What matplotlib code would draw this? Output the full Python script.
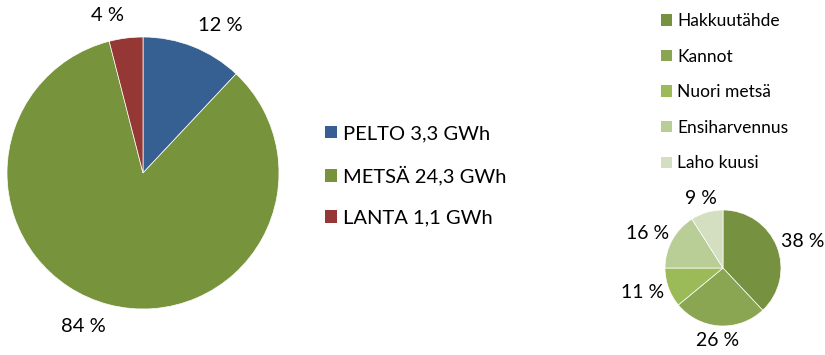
import numpy as np
import matplotlib.pyplot as plt
from matplotlib.patches import Patch

plt.rcParams['font.family'] = ['Lato', 'DejaVu Sans']

# energy sources
sources = ['PELTO', 'METSÄ', 'LANTA']
source_gwh = [3.3, 24.3, 1.1]
source_pct = [12, 84, 4]
source_colors = ['#376092', '#77933C', '#953735']

# forest fraction breakdown
forest_parts = ['Hakkuutähde', 'Kannot', 'Nuori metsä', 'Ensiharvennus', 'Laho kuusi']
forest_pct = [38, 26, 11, 16, 9]
forest_colors = ['#76913F', '#8BA652', '#9BBB59', '#B9CD96', '#D3DFC0']

W, H = 825, 355
fig = plt.figure(figsize=(W / 100, H / 100), dpi=100)


def pie_axes(cx, cy, r):
    # axes box in pixels, pie radius 1 maps to r pixels
    s = 1.25 * r
    return fig.add_axes([(cx - s) / W, (H - cy - s) / H, 2 * s / W, 2 * s / H])


def draw_pie(ax, values, colors, fs):
    wedges, _, autotexts = ax.pie(values, colors=colors, startangle=90, counterclock=False,
                                  autopct=lambda p: f'{p:.0f} %', pctdistance=1.2,
                                  wedgeprops=dict(edgecolor='white', linewidth=0.5),
                                  textprops=dict(fontsize=fs, color='black'))
    ax.set_xlim(-1.25, 1.25)
    ax.set_ylim(-1.25, 1.25)
    ax.set_aspect('equal')
    ax.axis('off')
    return wedges, autotexts


def place_labels(wedges, texts, r, gap, corner):
    # put each label just outside its slice, text box pushed away from the pie
    renderer = fig.canvas.get_renderer()
    for w, t in zip(wedges, texts):
        a = np.deg2rad((w.theta1 + w.theta2) / 2)
        c, s = np.cos(a), np.sin(a)
        bb = t.get_window_extent(renderer)
        hw, hh = bb.width / 2 / r, bb.height / 2 / r
        d = 1 + gap / r
        if corner:
            x = d * c + np.sign(c) * hw
            y = d * s + np.sign(s) * hh
        else:
            x = d * c + hw * c
            y = d * s + hh * s
        t.set_position((x, y))


ax1 = pie_axes(143, 173, 136)
w1, t1 = draw_pie(ax1, source_pct, source_colors, 14.5)

ax2 = pie_axes(723, 268, 58)
w2, t2 = draw_pie(ax2, forest_pct, forest_colors, 14)

fig.canvas.draw()
place_labels(w1, t1, 136, 14, True)
place_labels(w2, t2, 58, 6, False)

handles1 = [Patch(facecolor=c) for c in source_colors]
labels1 = [f'{s} {str(v).replace(".", ",")} GWh' for s, v in zip(sources, source_gwh)]
fig.legend(handles1, labels1, loc='upper left', bbox_to_anchor=(325 / W, 1 - 125 / H),
           frameon=False, fontsize=14.5, handlelength=0.6, handleheight=0.6,
           handletextpad=0.28, labelspacing=1.18, borderaxespad=0, borderpad=0)

handles2 = [Patch(facecolor=c) for c in forest_colors]
fig.legend(handles2, forest_parts, loc='upper left', bbox_to_anchor=(661 / W, 1 - 13 / H),
           frameon=False, fontsize=12.5, handlelength=0.63, handleheight=0.63,
           handletextpad=0.3, labelspacing=1.13, borderaxespad=0, borderpad=0)

fig.savefig('out.png', dpi=100)
